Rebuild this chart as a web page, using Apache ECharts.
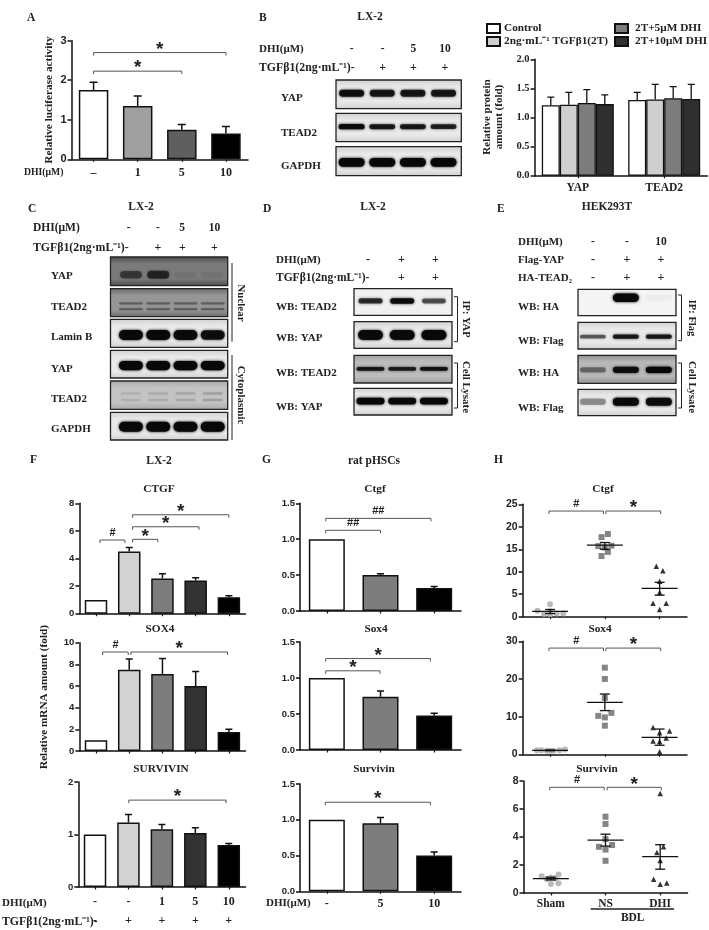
<!DOCTYPE html>
<html><head><meta charset="utf-8"><style>html,body{margin:0;background:#fff}#c{width:709px;height:930px}</style>
<script src="https://cdn.jsdelivr.net/npm/echarts@6/dist/echarts.min.js"></script></head>
<body><div id="c"></div>
<script>
// ---------- data ----------
const luciferase=[1.75,1.35,0.75,0.65], luciferaseHi=[1.95,1.6,0.88,0.83];
const proteinNames=['Control','2ng·mL⁻¹ TGFβ1(2T)','2T+5μM DHI','2T+10μM DHI'];
const proteinCats=['YAP','TEAD2'];
const proteinMean=[[1.21,1.30],[1.22,1.31],[1.25,1.33],[1.23,1.32]];
const proteinHi=[[1.35,1.43],[1.43,1.57],[1.48,1.53],[1.39,1.57]];
const ctgfF=[1,4.5,2.55,2.4,1.2], ctgfFHi=[1,4.8,2.9,2.6,1.3];
const sox4F=[1,7.5,7.1,6.0,1.75], sox4FHi=[1,8.5,8.55,7.35,2.0];
const survF=[1,1.23,1.1,1.03,0.8], survFHi=[1,1.38,1.19,1.13,0.83];
const ctgfG=[1,0.5,0.32], ctgfGHi=[1,0.52,0.34];
const sox4G=[1,0.74,0.48], sox4GHi=[1,0.82,0.51];
const survG=[1,0.95,0.5], survGHi=[1,1.03,0.55];
const dhiA=['–','1','5','10'];
const dhiF=['-','-','1','5','10'], tgfF=['-','+','+','+','+'];
const dhiG=['-','5','10'];
const groupsH=['Sham','NS','DHI'];
const ctgfSham=[[-.23,1.35],[0,2.75],[-.11,.6],[0,.5],[.12,.7],[.24,.7],[0,1.2]];
const ctgfNS=[[.055,18.4],[-.06,17.7],[-.06,13.5],[.055,14.4],[-.12,15.7],[.12,15.8],[0,15.4]];
const ctgfDHI=[[-.06,11.2],[.06,10.2],[0,7.9],[0,5.4],[-.12,3],[.12,3],[0,1.6]];
const ctgfStats=[[1.2,.7,1.6],[15.9,15.0,16.5],[6.3,4.8,7.65]];
const sox4Sham=[[-.24,1.05],[-.16,1.05],[-.06,.95],[0,.95],[.06,.95],[.17,1.05],[.27,1.3]];
const sox4NS=[[0,23],[0,20],[0,15],[-.12,10.2],[0,9.8],[.12,11],[0,7.6]];
const sox4DHI=[[-.12,7.1],[.18,6.2],[0,5.75],[.12,4.3],[-.12,3.5],[0,3.4],[0,.7]];
const sox4Stats=[[1.05,.95,1.15],[13.8,11.6,16],[4.5,2.4,6.7]];
const survSham=[[-.17,1.2],[.14,1.33],[0,1.1],[-.08,1.0],[0,.65],[.14,.7],[.08,1.05]];
const survNS=[[0,5.45],[0,4.93],[0,3.85],[-.12,3.3],[.12,3.43],[0,3.1],[0,2.3]];
const survDHI=[[0,7.1],[.06,3.3],[-.06,2.9],[0,2.33],[-.12,.98],[0,.62],[.12,.71]];
const survStats=[[1.03,.93,1.13],[3.78,3.35,4.2],[2.6,1.7,3.45]];
// band strengths per lane
const bB=[.9,.85,.85,.85], bBt=[.95,.85,.85,.8], bBg=[1,1,1,1];
const bCyapN=[.5,.65,.06,.06], bCteadN=[.35,.35,.35,.35], bClam=[1,1,.95,.9], bCyapC=[1,1,1,1], bCteadC=[.1,.12,.15,.18], bCgap=[1,1,1,1];
const bDt=[.75,.95,.6], bDy=[.95,.95,1], bDtl=[.85,.8,.9], bDyl=[1,.95,.98];
const bEh=[0,1,.03], bEf=[.55,.85,.85], bEhl=[.4,.9,1], bEfl=[.35,1,.95];

// ---------- chart building ----------
const TF="'Liberation Serif'", SF="'Liberation Sans'";
const grid=[],xAxis=[],yAxis=[],series=[];
function addGrid(l,t,r,b,opt={}){grid.push(Object.assign({left:l,top:t,width:r-l,height:b-t},opt));return grid.length-1;}
const axisLine={show:true,onZero:false,lineStyle:{color:'#111',width:1.5}};
function errBars(gi,xi,yi,means,highs,cap){
  series.push({type:'custom',xAxisIndex:xi,yAxisIndex:yi,silent:true,z:1,data:means.map((m,i)=>[i,m,highs[i]]),
    renderItem(p,api){const a=api.coord([api.value(0),api.value(1)]),b=api.coord([api.value(0),api.value(2)]);
      if(Math.abs(a[1]-b[1])<.01)return {type:'group',children:[]};
      return {type:'polyline',shape:{points:[[a[0],a[1]],[b[0],b[1]],[b[0]-cap,b[1]],[b[0]+cap,b[1]]]},style:{stroke:'#111',lineWidth:1.5,fill:null}};}});
}
function bracketSeries(xv,yi,list,drop){
  series.push({type:'custom',xAxisIndex:xv,yAxisIndex:yi,silent:true,z:5,data:list.map(b=>[b[0],b[1],b[2],b[3]]),
    renderItem(p,api){const L=api.coord([api.value(0),api.value(2)]),R=api.coord([api.value(1),api.value(2)]);
      const t=list[p.dataIndexInside][3],star=t==='*';
      return {type:'group',children:[
       {type:'polyline',shape:{points:[[L[0],L[1]+drop],[L[0],L[1]],[R[0],R[1]],[R[0],R[1]+drop]]},style:{stroke:'#555',lineWidth:1,fill:null}},
       {type:'text',style:{text:t,x:(L[0]+R[0])/2,y:star?L[1]-3:L[1]-7,textAlign:'center',textVerticalAlign:'middle',font:star?`bold 19px ${SF}`:`bold 11px ${SF}`,fill:'#222'}}]};}});
}
function valueX(gi,n){xAxis.push({type:'value',gridIndex:gi,show:false,min:-.5,max:n-.5,splitLine:{show:false}});return xAxis.length-1;}
function yAx(gi,max,itv,dec,fs,font){yAxis.push({type:'value',gridIndex:gi,min:0,max:max,interval:itv,splitLine:{show:false},axisLine:axisLine,axisTick:{show:true,length:4,lineStyle:{color:'#111',width:1.5}},
  axisLabel:{margin:5,fontFamily:font||SF,fontWeight:'bold',fontSize:fs||9.5,color:'#222',formatter:v=>v.toFixed(dec)}});return yAxis.length-1;}
function catX(gi,cats,fmt,fs,margin,lh){xAxis.push({type:'category',gridIndex:gi,data:cats,axisLine:axisLine,axisTick:{show:true,alignWithLabel:true,length:2.5,lineStyle:{color:'#111',width:1.2}},
  axisLabel:{show:!!fmt,interval:0,margin:margin||6,fontFamily:TF,fontWeight:'bold',fontSize:fs||12,color:'#222',lineHeight:lh||14,formatter:fmt||undefined}});return xAxis.length-1;}
function barPanel(b){
  const gi=addGrid(b.l,b.t,b.r,b.b);const n=b.vals.length;
  const xi=catX(gi,b.vals.map((_,i)=>'c'+i),b.fmt,b.fs,b.margin,b.lh);
  const yi=yAx(gi,b.max,b.itv,b.dec,b.tfs);const xv=valueX(gi,n);
  series.push({type:'bar',xAxisIndex:xi,yAxisIndex:yi,barWidth:b.bw,z:2,silent:true,
    data:b.vals.map((v,i)=>({value:v,itemStyle:{color:b.colors[i],borderColor:'#111',borderWidth:1.5}}))});
  errBars(gi,xi,yi,b.vals,b.hi,b.cap||3.5);
  if(b.br)bracketSeries(xv,yi,b.br,3);
}
const cF=['#fff','#d2d2d2','#7d7d7d','#333','#000'], cG=['#fff','#7d7d7d','#000'];

// A
barPanel({l:71.5,r:248,t:40.7,b:159.3,vals:luciferase,hi:luciferaseHi,max:3,itv:1,dec:0,tfs:11,bw:29.5,cap:4,colors:['#fff','#a0a0a0','#5f5f5f','#000'],
  fmt:(v,i)=>dhiA[i],fs:12,margin:7,br:[[0,3,2.7,'*'],[0,2,2.23,'*']]});
// B right
{const gi=addGrid(534.6,59.3,707.4,175.7);
 const xi=catX(gi,proteinCats,v=>v,11.5,5);const yi=yAx(gi,2,.5,1,10.5,TF);
 const c=['#fff','#cfcfcf','#7d7d7d','#2f2f2f'];
 proteinNames.forEach((nm,s)=>series.push({type:'bar',name:nm,xAxisIndex:xi,yAxisIndex:yi,barWidth:18,barGap:'0%',z:2,silent:true,data:proteinMean[s],
   itemStyle:{color:c[s],borderColor:'#111',borderWidth:1.3}}));
 const rows=[];proteinMean.forEach((m,s)=>m.forEach((v,g)=>rows.push([g,v,proteinHi[s][g],s])));
 series.push({type:'custom',xAxisIndex:xi,yAxisIndex:yi,silent:true,z:1,data:rows,renderItem(p,api){
   const off=(api.value(3)-1.5)*18,a=api.coord([api.value(0),api.value(1)]),b=api.coord([api.value(0),api.value(2)]);
   return {type:'polyline',shape:{points:[[a[0]+off,a[1]],[b[0]+off,b[1]],[b[0]+off-3.5,b[1]],[b[0]+off+3.5,b[1]]]},style:{stroke:'#111',lineWidth:1.3,fill:null}};}});
}
// F
barPanel({l:79.4,r:245.5,t:503.3,b:613.7,vals:ctgfF,hi:ctgfFHi,max:8,itv:2,dec:0,bw:22.5,colors:cF,
  br:[[.12,.87,5.34,'#'],[1.1,1.86,5.39,'*'],[1.1,3.1,6.3,'*'],[1.1,4,7.17,'*']]});
barPanel({l:79.4,r:245.5,t:642.7,b:751,vals:sox4F,hi:sox4FHi,max:10,itv:2,dec:0,bw:22.5,colors:cF,
  br:[[.2,.97,9.14,'#'],[1.05,3.96,9.14,'*']]});
barPanel({l:78.3,r:245.5,t:782,b:894,vals:survF,hi:survFHi,max:2,itv:1,dec:0,bw:22.5,colors:cF,fs:12,margin:5,lh:19,
  fmt:(v,i)=>dhiF[i]+'\n'+tgfF[i],br:[[1.01,3.92,1.655,'*']]});
// G
barPanel({l:300,r:461,t:503.3,b:611,vals:ctgfG,hi:ctgfGHi,max:1.5,itv:.5,dec:1,bw:36,colors:cG,
  br:[[-.02,1,1.124,'##'],[-.02,1.94,1.29,'##']]});
barPanel({l:300,r:461,t:642,b:750,vals:sox4G,hi:sox4GHi,max:1.5,itv:.5,dec:1,bw:36,colors:cG,
  br:[[-.02,.99,1.10,'*'],[-.02,1.93,1.27,'*']]});
barPanel({l:300,r:461,t:784,b:891.3,vals:survG,hi:survGHi,max:1.5,itv:.5,dec:1,bw:36,colors:cG,fs:12,margin:6,
  fmt:(v,i)=>dhiG[i],br:[[-.03,1.93,1.245,'*']]});
// H
function scatterPanel(p){
  const gi=addGrid(p.l,p.t,p.r,p.b);
  const xi=catX(gi,groupsH,p.labels?(v=>v):null,11.5,4);
  const yi=yAx(gi,p.max,p.itv,0,10.5);const xv=valueX(gi,3);
  [[p.a,'circle','#a8a8a8',6],[p.n,'rect','#666',6],[p.d,'triangle','#000',5.5]].forEach((g,k)=>series.push({type:'scatter',xAxisIndex:xv,yAxisIndex:yi,symbol:g[1],symbolSize:g[3],z:3,silent:true,
    itemStyle:{color:g[2]},data:g[0].map(q=>[k+q[0],q[1]])}));
  series.push({type:'custom',xAxisIndex:xv,yAxisIndex:yi,silent:true,z:4,data:p.stats.map((s,i)=>[i,s[0],s[1],s[2]]),clip:false,renderItem(q,api){
    const m=api.coord([api.value(0),api.value(1)]),lo=api.coord([api.value(0),api.value(2)]),hi=api.coord([api.value(0),api.value(3)]);
    const st={stroke:'#111',lineWidth:1.3,fill:null};
    const seg=(a,b,c,d)=>({type:'line',shape:{x1:a,y1:b,x2:c,y2:d},style:st});
    return {type:'group',children:[seg(m[0]-18,m[1],m[0]+18,m[1]),seg(m[0],lo[1],m[0],hi[1]),seg(m[0]-5,lo[1],m[0]+5,lo[1]),seg(m[0]-5,hi[1],m[0]+5,hi[1])]};}});
  bracketSeries(xv,yi,p.br,3);
}
scatterPanel({l:522.7,r:687,t:504.3,b:616.7,max:25,itv:5,a:ctgfSham,n:ctgfNS,d:ctgfDHI,stats:ctgfStats,br:[[-.02,.976,23.5,'#'],[1.02,2.02,23.5,'*']]});
scatterPanel({l:522.7,r:687,t:641.3,b:754.3,max:30,itv:10,a:sox4Sham,n:sox4NS,d:sox4DHI,stats:sox4Stats,br:[[-.02,.976,28.2,'#'],[1.02,2.02,28.2,'*']]});
scatterPanel({l:523.5,r:687.5,t:781,b:893,max:8,itv:2,labels:true,a:survSham,n:survNS,d:survDHI,stats:survStats,br:[[-.02,.976,7.55,'#'],[1.03,2.02,7.55,'*']]});

// ---------- blots ----------
function blot(l,t,r,b,bg,span,bands){
  const g=new echarts.graphic.LinearGradient(0,0,0,1,[{offset:0,color:bg[1]||bg[0]},{offset:.25,color:bg[0]},{offset:.75,color:bg[0]},{offset:1,color:bg[1]||bg[0]}]);
  const gi=addGrid(l,t,r,b,{show:true,backgroundColor:g,borderColor:'#222',borderWidth:1.3,z:0});
  xAxis.push({type:'value',gridIndex:gi,show:false,min:span[0],max:span[1],splitLine:{show:false}});
  yAxis.push({type:'value',gridIndex:gi,show:false,min:0,max:1,splitLine:{show:false}});
  const xi=xAxis.length-1,yi=yAxis.length-1;
  bands.forEach(bd=>series.push({type:'custom',xAxisIndex:xi,yAxisIndex:yi,silent:true,data:bd.s.map((s,i)=>[i,bd.y,s]),renderItem(p,api){
    const c=api.coord([api.value(0),api.value(1)]),s=api.value(2);const col=`rgba(8,8,8,${s})`;
    const h=bd.ry*(.7+.3*s);
    return {type:'rect',shape:{x:c[0]-bd.rx,y:c[1]-h,width:bd.rx*2,height:h*2,r:h},style:{fill:col,shadowBlur:3,shadowColor:col}};}}));
}
const spB=[-.51,3.58],spC=[-.75,3.55],spD=[-.52,2.57],spE=[-.45,2.52];
const W=['#e9e9e9','#cfcfcf'];
blot(336,80,461.3,108.7,W,spB,[{s:bB,y:.54,rx:12.5,ry:3.6}]);
blot(336,113.3,461.3,141.7,W,spB,[{s:bBt,y:.53,rx:13,ry:2.6}]);
blot(336,146.7,461.3,175.7,W,spB,[{s:bBg,y:.46,rx:13,ry:4.4}]);
blot(110.5,257,227.7,285.7,['#7a7a7a','#4a4a4a'],spC,[{s:bCyapN,y:.38,rx:11,ry:4.5}]);
blot(110.5,288.7,227.7,316.7,['#969696','#6a6a6a'],spC,[{s:bCteadN,y:.48,rx:12,ry:1.4},{s:bCteadN,y:.27,rx:12,ry:1.4}]);
blot(110.5,319.3,227.7,347.3,W,spC,[{s:bClam,y:.44,rx:12,ry:5}]);
blot(110.5,350.3,227.7,378,W,spC,[{s:bCyapC,y:.45,rx:12,ry:4.6}]);
blot(110.5,381,227.7,409.3,['#c4c4c4','#a8a8a8'],spC,[{s:bCteadC,y:.56,rx:10,ry:1.6},{s:bCteadC,y:.33,rx:10,ry:1.6}]);
blot(110.5,412.3,227.7,440,W,spC,[{s:bCgap,y:.48,rx:12,ry:5}]);
blot(354,288.7,452,315.3,['#f0f0f0'],spD,[{s:bDt,y:.54,rx:12,ry:2.8}]);
blot(354,321.7,452,348.3,W,spD,[{s:bDy,y:.5,rx:12.5,ry:5}]);
blot(354,355.3,452,383,['#bcbcbc','#a0a0a0'],spD,[{s:bDtl,y:.51,rx:14,ry:2}]);
blot(354,388.3,452,415,W,spD,[{s:bDyl,y:.52,rx:14,ry:3.4}]);
blot(578,289.3,676,315.7,['#f4f4f4'],spE,[{s:bEh,y:.68,rx:13,ry:4.2}]);
blot(578,322.3,676,349,W,spE,[{s:bEf,y:.46,rx:13,ry:2.2}]);
blot(578,355.3,676,383.3,['#b8b8b8','#8e8e8e'],spE,[{s:bEhl,y:.48,rx:13,ry:3.2}]);
blot(578,389.3,676,415.7,W,spE,[{s:bEfl,y:.53,rx:13,ry:4}]);

// ---------- static text / rules ----------
const G=[];
function t(text,x,y,size=12,align='left',rot=0,font=TF){G.push({type:'text',x,y,rotation:rot,silent:true,style:{text,x:0,y:0,textAlign:align,textVerticalAlign:'middle',font:`bold ${size}px ${font}`,fill:'#222'}});}
function pl(pts,w=1){G.push({type:'polyline',silent:true,shape:{points:pts},style:{stroke:'#222',lineWidth:w,fill:null}});}
const UP=Math.PI/2,DN=-Math.PI/2;
[['A',27,18],['B',259,18],['C',28,209],['D',263,209],['E',497,209],['F',30,460.5],['G',262,460.5],['H',494,460.5]].forEach(a=>t(a[0],a[1],a[2],11.5));
[['LX-2',370,17.5],['LX-2',141,207],['LX-2',373,207],['HEK293T',607,207],['LX-2',159,461],['rat pHSCs',374,461]].forEach(a=>t(a[0],a[1],a[2],11.5,'center'));
t('Relative luciferase activity',49,100,11.3,'center',UP);
t('Relative protein',487,117,11,'center',UP);t('amount (fold)',499,117,11,'center',UP);
t('Relative mRNA amount (fold)',44,697,11.2,'center',UP);
t('DHI(μM)',24,172,9.7);
[['CTGF',159,489.5],['SOX4',160,629],['SURVIVIN',161,769.5],['Ctgf',375,489.5],['Sox4',376,629],['Survivin',374,769.5],['Ctgf',603,489.5],['Sox4',600,629],['Survivin',597,769.5]].forEach(a=>t(a[0],a[1],a[2],11.3,'center'));
t('DHI(μM)',2,903,11);t('TGFβ1(2ng·mL⁻¹)-',2,922,11.8);
t('DHI(μM)',266,903,11);
t('BDL',632.7,918.5,11.5,'center');pl([[590.7,909],[674,909]],1.4);
// B
t('DHI(μM)',259,49,11);t('TGFβ1(2ng·mL⁻¹)-',259,68.3,11.8);
[['-',351.7],['-',382.7],['5',413.3],['10',445]].forEach(a=>t(a[0],a[1],49,11.5,'center'));
[['+',382.7],['+',413.3],['+',445]].forEach(a=>t(a[0],a[1],68.3,12,'center'));
[['YAP',98],['TEAD2',132.7],['GAPDH',165.7]].forEach(a=>t(a[0],281,a[1],11));
// C
t('DHI(μM)',33,227.7,11.5);t('TGFβ1(2ng·mL⁻¹)-',33,248.3,11.8);
[['-',128.6],['-',158],['5',182],['10',214.5]].forEach(a=>t(a[0],a[1],227.7,11.5,'center'));
[['+',158],['+',182.5],['+',214.5]].forEach(a=>t(a[0],a[1],248.3,12,'center'));
[['YAP',276],['TEAD2',307],['Lamin B',337],['YAP',369],['TEAD2',399],['GAPDH',429]].forEach(a=>t(a[0],51,a[1],11));
pl([[232,263],[232,341.7]]);pl([[232,355],[232,440]]);
t('Nuclear',241,303,11,'center',DN);t('Cytoplasmic',241,395,11,'center',DN);
// D
t('DHI(μM)',276,260,11);t('TGFβ1(2ng·mL⁻¹)-',276,277.7,11.5);
[['-',368],['+',401.4],['+',435.5]].forEach(a=>{t(a[0],a[1],260,12,'center');});
[['+',401.4],['+',435.5]].forEach(a=>t(a[0],a[1],277.7,12,'center'));
[['WB: TEAD2',307],['WB: YAP',338],['WB: TEAD2',373],['WB: YAP',407]].forEach(a=>t(a[0],276,a[1],11));
pl([[454,296.7],[457.5,296.7],[457.5,341.7],[454,341.7]]);pl([[454,363],[457.5,363],[457.5,408],[454,408]]);
t('IP: YAP',466,319,10.5,'center',DN);t('Cell Lysate',466,387,11,'center',DN);
// E
[['DHI(μM)',241.7],['Flag-YAP',260],['HA-TEAD₂',278]].forEach(a=>t(a[0],518,a[1],11));
[['-',593],['-',627],['10',661]].forEach(a=>t(a[0],a[1],241.7,11.5,'center'));
[['-',593],['+',627],['+',661]].forEach(a=>{t(a[0],a[1],260,12,'center');t(a[0],a[1],278,12,'center');});
[['WB: HA',307],['WB: Flag',340.7],['WB: HA',373.6],['WB: Flag',408]].forEach(a=>t(a[0],518,a[1],11));
pl([[678,295],[681.5,295],[681.5,340.7],[678,340.7]]);pl([[678,363],[681.5,363],[681.5,408],[678,408]]);
t('IP: Flag',692,318,10.5,'center',DN);t('Cell Lysate',692,387,11,'center',DN);

const legendBase={orient:'vertical',itemWidth:13,itemHeight:9,itemGap:2,selectedMode:false,icon:'rect',padding:0,
  textStyle:{fontFamily:TF,fontWeight:'bold',fontSize:11.3,color:'#222',padding:[0,0,0,-1]}};
const chart=echarts.init(document.getElementById('c'),null,{renderer:'canvas'});
chart.setOption({animation:false,backgroundColor:'#fff',grid,xAxis,yAxis,series,graphic:{elements:G},
  legend:[Object.assign({},legendBase,{left:486,top:23,data:proteinNames.slice(0,2)}),
          Object.assign({},legendBase,{left:614,top:23,textStyle:Object.assign({},legendBase.textStyle,{padding:[0,0,0,2]}),data:proteinNames.slice(2)})]});
</script></body></html>
